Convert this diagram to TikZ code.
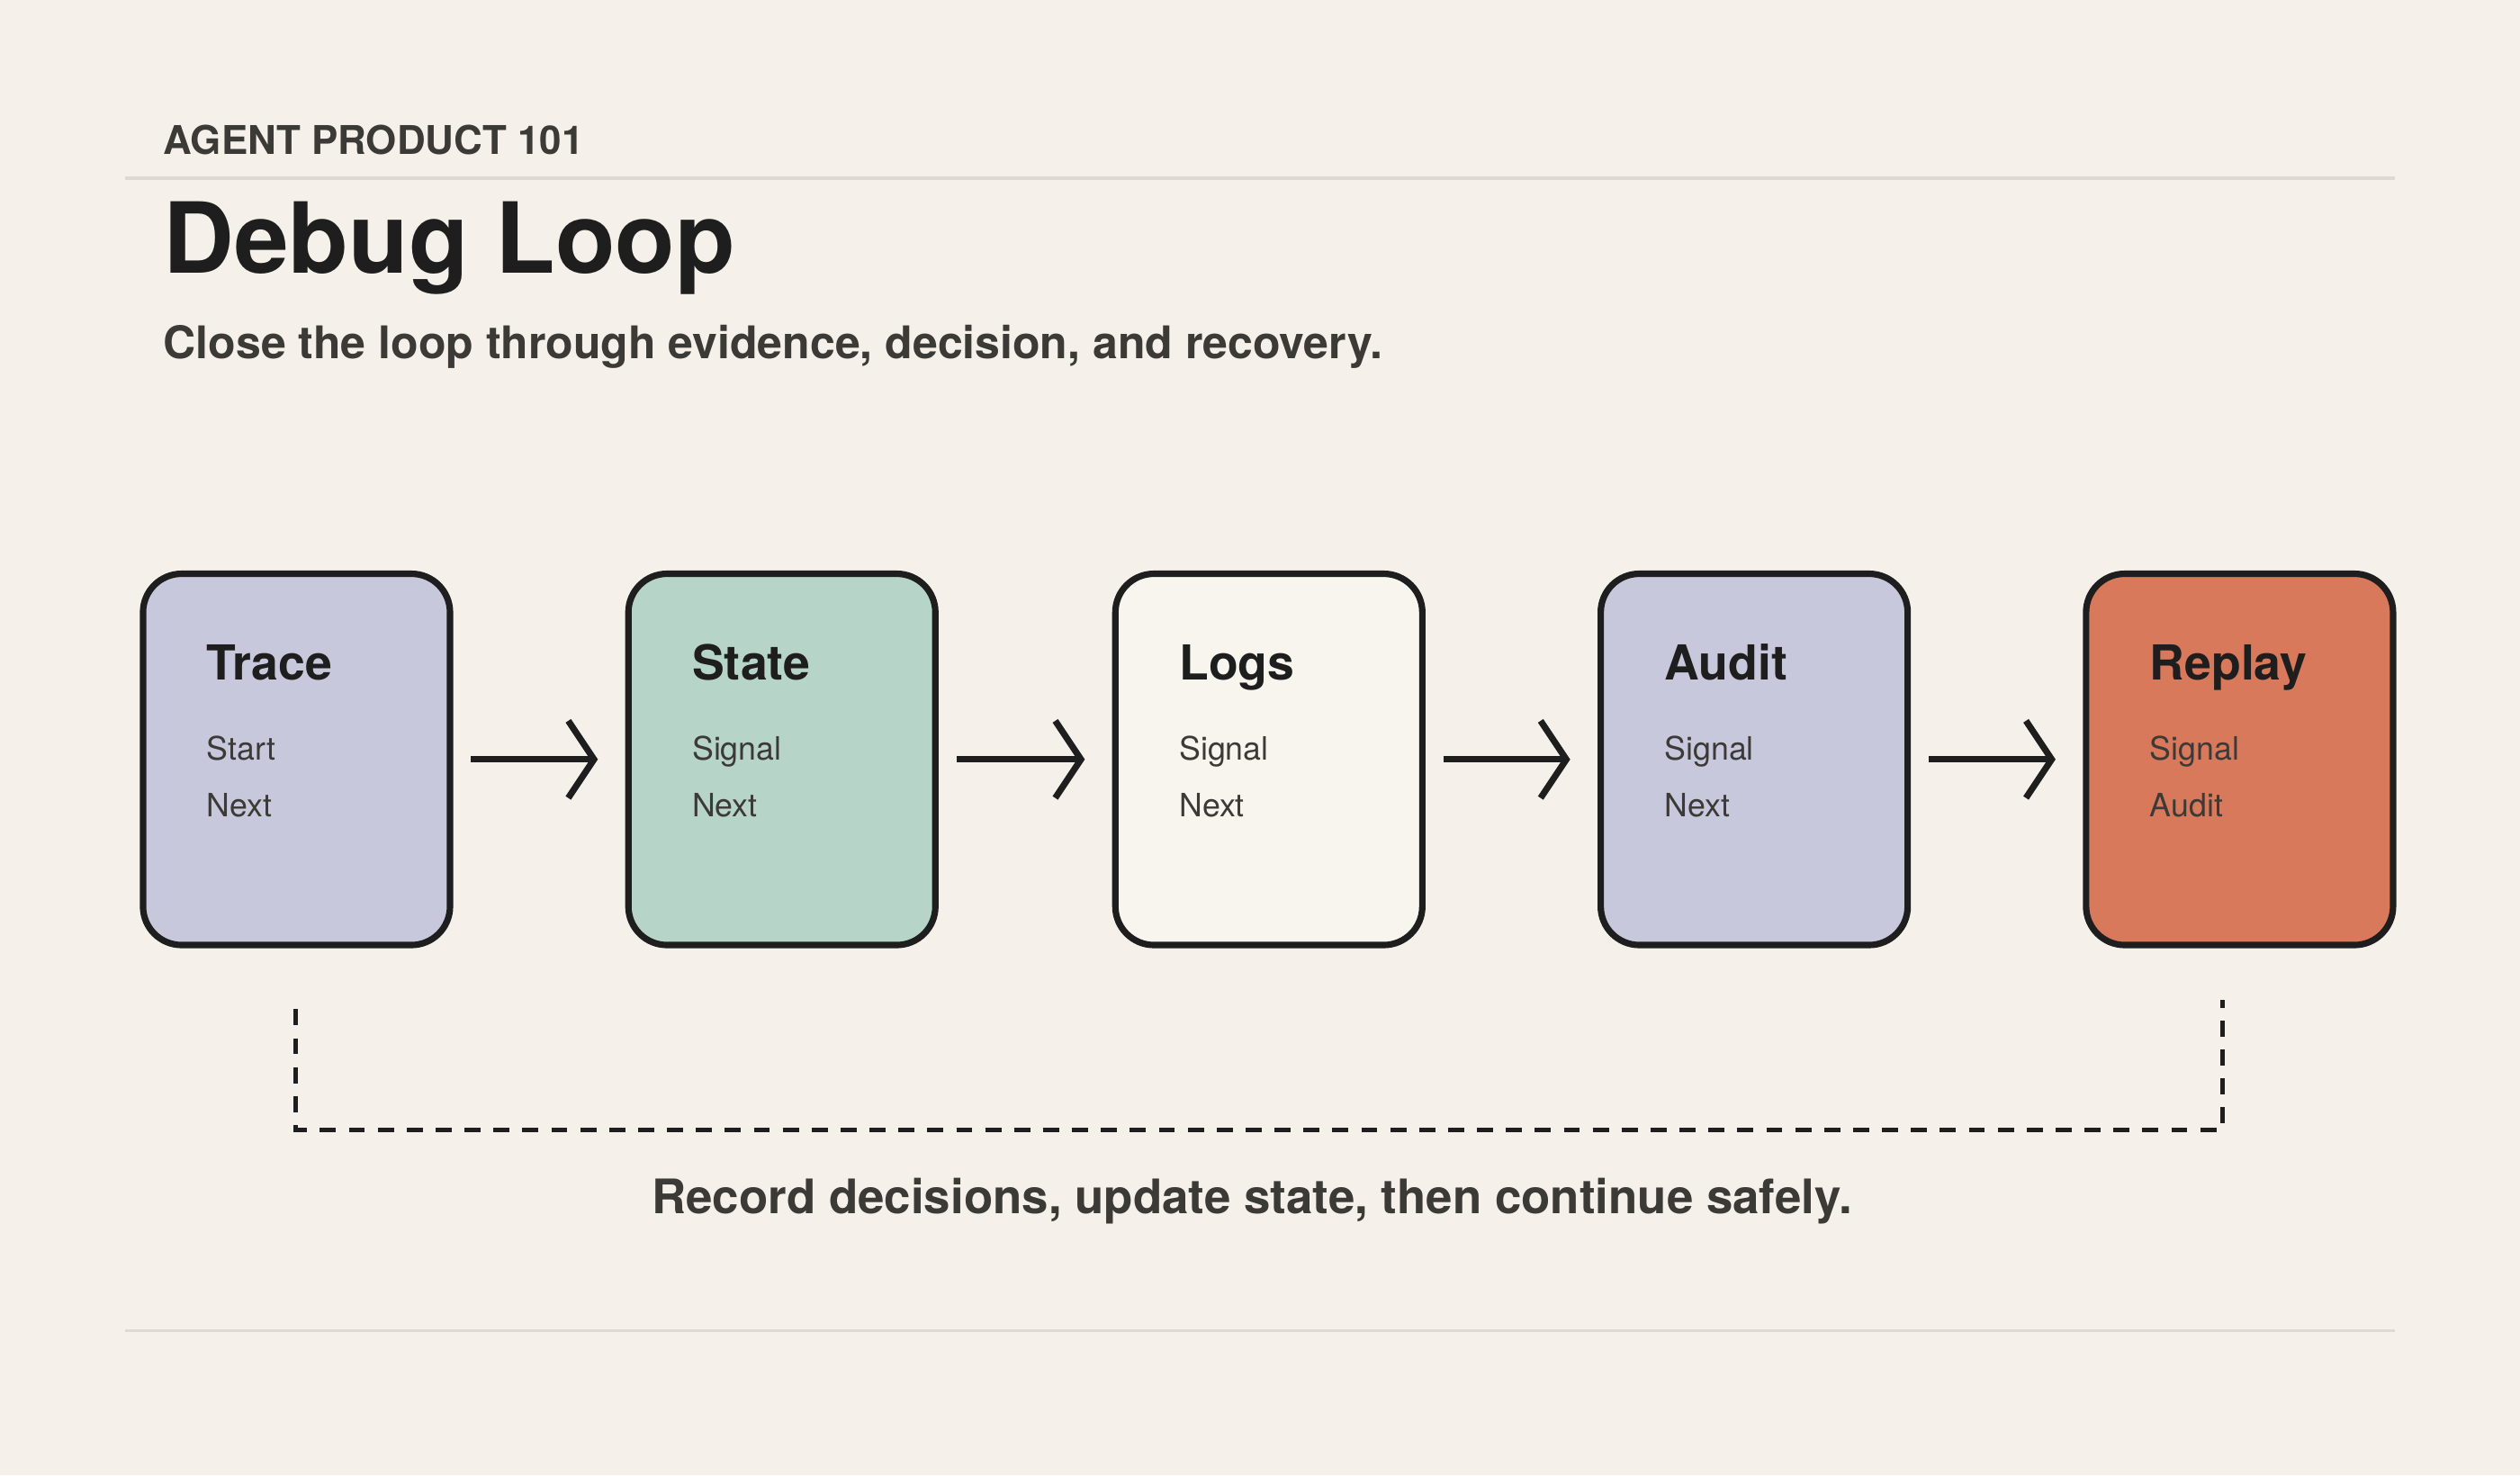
\documentclass[tikz,border=0pt]{standalone}
\usepackage{fontspec}
\setmainfont{TeX Gyre Heros}
\usetikzlibrary{arrows.meta,positioning}
\definecolor{paper}{HTML}{F5F1EA}
\definecolor{ink}{HTML}{1E1E1E}
\definecolor{soft}{HTML}{3C3A37}
\definecolor{rulec}{HTML}{DEDAD3}
\definecolor{lav}{HTML}{C8C8DC}
\definecolor{sage}{HTML}{B7D4C8}
\definecolor{blank}{HTML}{F8F5EF}
\definecolor{clay}{HTML}{D9795B}
\tikzset{every picture/.style={line width=0.75pt}}
\tikzset{
  card/.style={draw=ink, line width=2pt, rounded corners=12pt, minimum width=95.5pt, minimum height=115.5pt, inner sep=0pt},
  cardtitle/.style={anchor=base west, inner sep=0pt, font=\fontsize{15}{18}\selectfont\bfseries, text=ink},
  carditem/.style={anchor=base west, inner sep=0pt, font=\fontsize{10}{12}\selectfont, text=soft},
  flow/.style={draw=ink, line width=2pt, -{Straight Barb[length=8pt, width=24pt, line width=2pt]}, shorten <=5.5pt, shorten >=8.5pt},
  loopline/.style={draw=ink, line width=1.5pt, dash pattern=on 5pt off 4pt}
}
\begin{document}
\begin{tikzpicture}[x=0.5pt,y=0.5pt,yscale=-1,xscale=1]
\fill[paper] (0,0) rectangle (1568,918);
\useasboundingbox (0,0) rectangle (1568,918);

% header
\node[anchor=base west, inner sep=0pt, font=\fontsize{12.3}{14}\selectfont\bfseries, text=soft] (kicker) at (101,96) {AGENT PRODUCT 101};
\draw[rulec, line width=1pt] (78,111) -- (1490,111);
\node[anchor=base west, inner sep=0pt, font=\fontsize{30.5}{34}\selectfont\bfseries, text=ink] (title) at (101,170) {Debug Loop};
\node[anchor=base west, inner sep=0pt, font=\fontsize{14}{16}\selectfont\bfseries, text=soft] (subtitle) at (101,223) {Close the loop through evidence, decision, and recovery.};

% cards
\foreach \name/\x/\fillc/\head/\one/\two in {
  trace/184.5/lav/Trace/Start/Next,
  state/486.5/sage/State/Signal/Next,
  logs/789.5/blank/Logs/Signal/Next,
  audit/1091.5/lav/Audit/Signal/Next,
  replay/1393.5/clay/Replay/Signal/Audit}{
  \node[card, fill=\fillc] (\name) at (\x,472.5) {};
  \node[cardtitle] (\name-head) at ({\x-56.5},423) {\head};
  \node[carditem] (\name-one) at ({\x-56.5},473) {\one};
  \node[carditem] (\name-two) at ({\x-56.5},508) {\two};
}

% arrows
\draw[flow] (trace.east) -- (state.west);
\draw[flow] (state.east) -- (logs.west);
\draw[flow] (logs.east) -- (audit.west);
\draw[flow] (audit.east) -- (replay.west);

% return loop
\coordinate (loopa) at (184,628);
\coordinate (loopb) at (1383,622);
\draw[loopline] (loopa) -- (184,703) -- (1383,703) -- (loopb);
\node[anchor=base, inner sep=0pt, font=\fontsize{14.8}{17}\selectfont\bfseries, text=soft] (caption) at (779,755) {Record decisions, update state, then continue safely.};

\draw[rulec, line width=1pt] (78,828) -- (1490,828);
\end{tikzpicture}
\end{document}
